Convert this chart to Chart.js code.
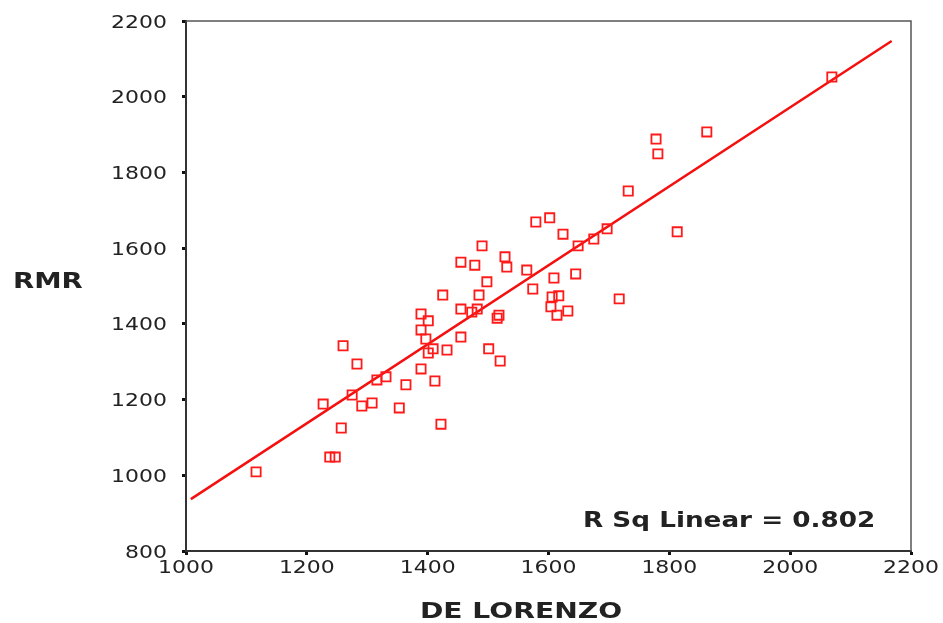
<!DOCTYPE html>
<html>
<head>
<meta charset="utf-8">
<script src="https://cdn.jsdelivr.net/npm/chart.js@4"></script>
<style>
  html, body { margin: 0; padding: 0; background: #fff; }
  #wrap { width: 943px; height: 623px; }
</style>
</head>
<body>
<div id="wrap"><canvas id="rmrChart" width="943" height="623"></canvas></div>
<script>
// values (x = DE LORENZO, y = RMR)
const deLorenzo = [1116, 1238, 1247, 1227, 1257, 1275, 1260, 1283, 1291, 1308,
  1316, 1331, 1353, 1364, 1389, 1412, 1422, 1389, 1389, 1401,
  1397, 1401, 1409, 1432, 1455, 1425, 1455, 1473, 1482, 1485,
  1498, 1455, 1478, 1490, 1501, 1520, 1515, 1518, 1528, 1531,
  1564, 1574, 1609, 1606, 1617, 1604, 1614, 1632, 1645, 1649,
  1624, 1579, 1602, 1675, 1697, 1717, 1732, 1778, 1781, 1813,
  1862, 2069];
const rmr = [1009, 1048, 1048, 1188, 1125, 1212, 1342, 1294, 1183, 1191,
  1252, 1260, 1178, 1239, 1281, 1249, 1135, 1384, 1426, 1408,
  1360, 1323, 1334, 1331, 1365, 1476, 1439, 1431, 1439, 1476,
  1511, 1563, 1555, 1606, 1334, 1302, 1415, 1423, 1577, 1550,
  1542, 1492, 1521, 1471, 1474, 1445, 1423, 1434, 1532, 1606,
  1637, 1669, 1680, 1624, 1651, 1466, 1751, 1888, 1849, 1643,
  1907, 2052];

// linear fit line, both ends
const fitX = [1008, 2168];
const fitY = [937, 2147];

const xTickValues = [1000, 1200, 1400, 1600, 1800, 2000, 2200];
const yTickValues = [800, 1000, 1200, 1400, 1600, 1800, 2000, 2200];
const rSquaredText = 'R Sq Linear = 0.802';
const xTitle = 'DE LORENZO';
const yTitle = 'RMR';

const points = deLorenzo.map((x, i) => ({ x: x, y: rmr[i] }));
const fitLine = fitX.map((x, i) => ({ x: x, y: fitY[i] }));

// frame + stretched texts (the original is a widened SPSS export)
const decorations = {
  id: 'decorations',
  beforeDatasetsDraw(chart) {
    const { ctx, chartArea: a } = chart;
    ctx.save();
    ctx.strokeStyle = '#555';
    ctx.lineWidth = 1.5;
    ctx.beginPath();
    ctx.moveTo(a.left, a.top);
    ctx.lineTo(a.right, a.top);
    ctx.lineTo(a.right, a.bottom);
    ctx.stroke();
    ctx.restore();
  },
  afterDraw(chart) {
    const { ctx } = chart;
    const xs = chart.scales.x, ys = chart.scales.y;
    const put = (txt, x, y, font, align, sx) => {
      ctx.save();
      ctx.translate(x, y);
      ctx.scale(sx, 1);
      ctx.font = font;
      ctx.textAlign = align;
      ctx.textBaseline = 'alphabetic';
      ctx.fillStyle = '#222';
      ctx.fillText(txt, 0, 0);
      ctx.restore();
    };
    const tickFont = '18px "DejaVu Sans"';
    yTickValues.forEach(v => put(String(v), 167, ys.getPixelForValue(v) + 6.5, tickFont, 'right', 1.22));
    xTickValues.forEach(v => put(String(v), xs.getPixelForValue(v), 573, tickFont, 'center', 1.22));
    put(yTitle, 13, 288, 'bold 22px "DejaVu Sans"', 'left', 1.25);
    put(xTitle, 521, 618, 'bold 22px "DejaVu Sans"', 'center', 1.28);
    put(rSquaredText, 583, 527, 'bold 21px "DejaVu Sans"', 'left', 1.25);
  }
};

new Chart(document.getElementById('rmrChart').getContext('2d'), {
  type: 'scatter',
  data: {
    datasets: [
      {
        label: 'Fit',
        data: fitLine,
        showLine: true,
        borderColor: '#f51010',
        borderWidth: 2.5,
        pointRadius: 0,
        order: 2
      },
      {
        label: 'RMR',
        data: points,
        pointStyle: 'rect',
        pointRadius: 6.5,
        borderWidth: 1.8,
        borderColor: '#ff1a1a',
        backgroundColor: 'rgba(0,0,0,0)',
        order: 1
      }
    ]
  },
  options: {
    responsive: false,
    animation: false,
    layout: { padding: { top: 21, right: 32, left: 0, bottom: 0 } },
    plugins: { legend: { display: false }, tooltip: { enabled: false } },
    scales: {
      x: {
        type: 'linear', min: 1000, max: 2200,
        afterBuildTicks: s => { s.ticks = xTickValues.map(v => ({ value: v })); },
        afterFit: s => { s.height = 72; },
        ticks: { display: false },
        grid: { drawOnChartArea: false, drawTicks: true, tickLength: 4, tickWidth: 3, tickColor: '#111' },
        border: { display: true, color: '#333', width: 2 }
      },
      y: {
        type: 'linear', min: 800, max: 2200,
        afterBuildTicks: s => { s.ticks = yTickValues.map(v => ({ value: v })); },
        afterFit: s => { s.width = 186; },
        ticks: { display: false },
        grid: { drawOnChartArea: false, drawTicks: true, tickLength: 4, tickWidth: 3, tickColor: '#111' },
        border: { display: true, color: '#333', width: 2 }
      }
    }
  },
  plugins: [decorations]
});
</script>
</body>
</html>
